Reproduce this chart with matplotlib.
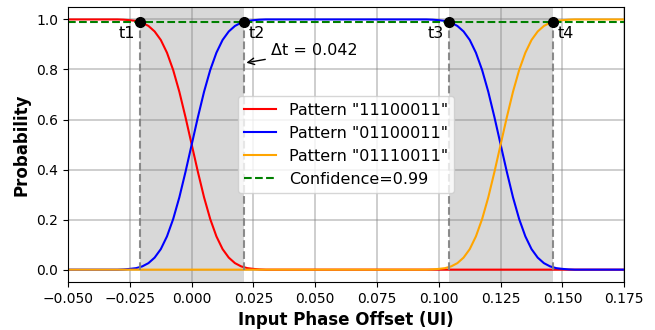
import matplotlib
matplotlib.use("Agg")
from matplotlib import pyplot as plt

# transition profile (rising edge, 0.0025 UI steps from -0.030 to +0.030 around the crossing)
rise = [0.000, 0.001, 0.003, 0.006, 0.013, 0.026, 0.048, 0.082, 0.133, 0.202, 0.289, 0.391,
        0.500, 0.609, 0.711, 0.798, 0.867, 0.918, 0.952, 0.974, 0.987, 0.994, 0.997, 0.999, 1.000]
fall = rise[::-1]
zeros_t = [0.0] * len(rise)

# sample positions (UI)
x_head = [-0.050, -0.040]
x_edge1 = [-0.0300, -0.0275, -0.0250, -0.0225, -0.0200, -0.0175, -0.0150, -0.0125, -0.0100,
           -0.0075, -0.0050, -0.0025, 0.0000, 0.0025, 0.0050, 0.0075, 0.0100, 0.0125,
           0.0150, 0.0175, 0.0200, 0.0225, 0.0250, 0.0275, 0.0300]
x_mid = [0.040, 0.050, 0.060, 0.070, 0.080, 0.090]
x_edge2 = [0.0950, 0.0975, 0.1000, 0.1025, 0.1050, 0.1075, 0.1100, 0.1125, 0.1150, 0.1175,
           0.1200, 0.1225, 0.1250, 0.1275, 0.1300, 0.1325, 0.1350, 0.1375, 0.1400, 0.1425,
           0.1450, 0.1475, 0.1500, 0.1525, 0.1550]
x_tail = [0.165, 0.175]
x = x_head + x_edge1 + x_mid + x_edge2 + x_tail

p_11100011 = [1.0, 1.0] + fall + [0.0] * 6 + zeros_t + [0.0, 0.0]
p_01100011 = [0.0, 0.0] + rise + [1.0] * 6 + fall + [0.0, 0.0]
p_01110011 = [0.0, 0.0] + zeros_t + [0.0] * 6 + rise + [1.0, 1.0]

confidence = 0.99
t_points = [-0.021, 0.021, 0.104, 0.146]
t_labels = ["t1", "t2", "t3", "t4"]
delta_t = 0.042

fig, ax = plt.subplots(figsize=(6.55, 3.3), dpi=100)

# shaded windows between threshold crossings
ax.axvspan(t_points[0], t_points[1], color='gray', alpha=0.3, linewidth=0)
ax.axvspan(t_points[2], t_points[3], color='gray', alpha=0.3, linewidth=0)

ax.plot(x, p_11100011, color='red', lw=1.5, label='Pattern "11100011"')
ax.plot(x, p_01100011, color='blue', lw=1.5, label='Pattern "01100011"')
ax.plot(x, p_01110011, color='orange', lw=1.5, label='Pattern "01110011"')
ax.axhline(confidence, color='green', ls='--', lw=1.5, label=f'Confidence={confidence}')

ax.vlines(t_points, 0, confidence, colors='gray', linestyles='--', lw=1.5, alpha=0.9)
ax.plot(t_points, [confidence] * 4, 'o', color='black', ms=7, zorder=5)

for t, lab in zip(t_points, t_labels):
    if lab in ("t1", "t3"):
        ax.text(t - 0.0019, confidence - 0.015, lab, ha='right', va='top', fontsize=11.5)
    else:
        ax.text(t + 0.0019, confidence - 0.015, lab, ha='left', va='top', fontsize=11.5)

ax.annotate(f'Δt = {delta_t}', xy=(t_points[1], 0.825), xytext=(0.032, 0.875),
            fontsize=11.5, va='center', arrowprops=dict(arrowstyle='->', color='black', lw=1))

ax.set_xlim(-0.05, 0.175)
ax.set_ylim(-0.05, 1.05)
ax.set_xticks([-0.05, -0.025, 0, 0.025, 0.05, 0.075, 0.1, 0.125, 0.15, 0.175])
ax.grid(True, color='gray', alpha=0.45, linewidth=1.2)
ax.tick_params(labelsize=10)
ax.set_xlabel('Input Phase Offset (UI)', fontsize=12, fontweight='bold')
ax.set_ylabel('Probability', fontsize=12, fontweight='bold')

ax.legend(loc='center', fontsize=11.5)

plt.subplots_adjust(left=0.104, right=0.953, top=0.979, bottom=0.145)
plt.savefig('out.png', dpi=100)
plt.close(fig)
